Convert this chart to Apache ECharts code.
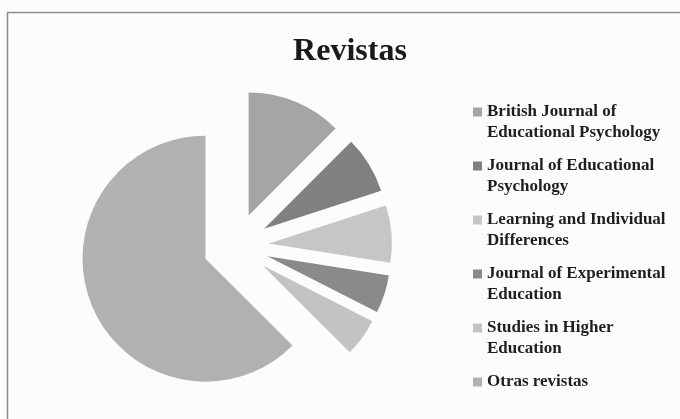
<!DOCTYPE html>
<html>
<head>
<meta charset="utf-8">
<script src="https://cdn.jsdelivr.net/npm/echarts@6/dist/echarts.min.js"></script>
<style>
  html, body { margin: 0; padding: 0; background: #fcfcfc; }
  #chart { width: 680px; height: 419px; }
</style>
</head>
<body>
<div id="chart"></div>
<script>
// Data (counts)
var categories = [
  'British Journal of Educational Psychology',
  'Journal of Educational Psychology',
  'Learning and Individual Differences',
  'Journal of Experimental Education',
  'Studies in Higher Education',
  'Otras revistas'
];
var legendLabels = [
  'British Journal of\nEducational Psychology',
  'Journal of Educational\nPsychology',
  'Learning and Individual\nDifferences',
  'Journal of Experimental\nEducation',
  'Studies in Higher\nEducation',
  'Otras revistas\n '
];
var values = [5, 3, 3, 2, 2, 25];
var colors = ['#a5a5a5', '#808080', '#c6c6c6', '#8a8a8a', '#c3c3c3', '#b1b1b1'];
var titleText = 'Revistas';

var chart = echarts.init(document.getElementById('chart'), null, { renderer: 'canvas' });

var seriesData = categories.map(function (c, i) {
  return { name: c, value: values[i], selected: true, itemStyle: { color: colors[i] } };
});

// square icon placed level with the first text line
var iconPath = 'path://M0,6.5h9v9h-9z M0,0h0.01v0.01h-0.01z M0,41.99h0.01v0.01h-0.01z';

chart.setOption({
  animation: false,
  backgroundColor: '#fcfcfc',
  title: {
    text: titleText,
    left: 350,
    textAlign: 'center',
    top: 36,
    padding: 0,
    textStyle: {
      fontFamily: 'Liberation Serif',
      fontWeight: 'bold',
      fontSize: 32,
      color: '#1a1a1a'
    }
  },
  legend: {
    orient: 'vertical',
    left: 473,
    top: 101,
    padding: 0,
    itemWidth: 9,
    itemHeight: 42,
    itemGap: 12,
    icon: iconPath,
    selectedMode: false,
    itemStyle: { borderWidth: 0 },
    data: categories,
    formatter: function (name) {
      return legendLabels[categories.indexOf(name)];
    },
    textStyle: {
      fontFamily: 'Liberation Serif',
      fontWeight: 'bold',
      fontSize: 17,
      lineHeight: 21,
      color: '#1e1e1e'
    }
  },
  graphic: [{
    type: 'rect',
    shape: { x: 7.5, y: 12.5, width: 700, height: 430 },
    style: { fill: null, stroke: '#8c8c8c', lineWidth: 1.5 },
    silent: true
  }],
  series: [{
    type: 'pie',
    center: [236, 246],
    radius: 123,
    startAngle: 90,
    clockwise: true,
    selectedMode: 'multiple',
    selectedOffset: 33,
    label: { show: false },
    labelLine: { show: false },
    emphasis: { scale: false, disabled: true },
    itemStyle: { borderWidth: 0 },
    data: seriesData
  }]
});
</script>
</body>
</html>
